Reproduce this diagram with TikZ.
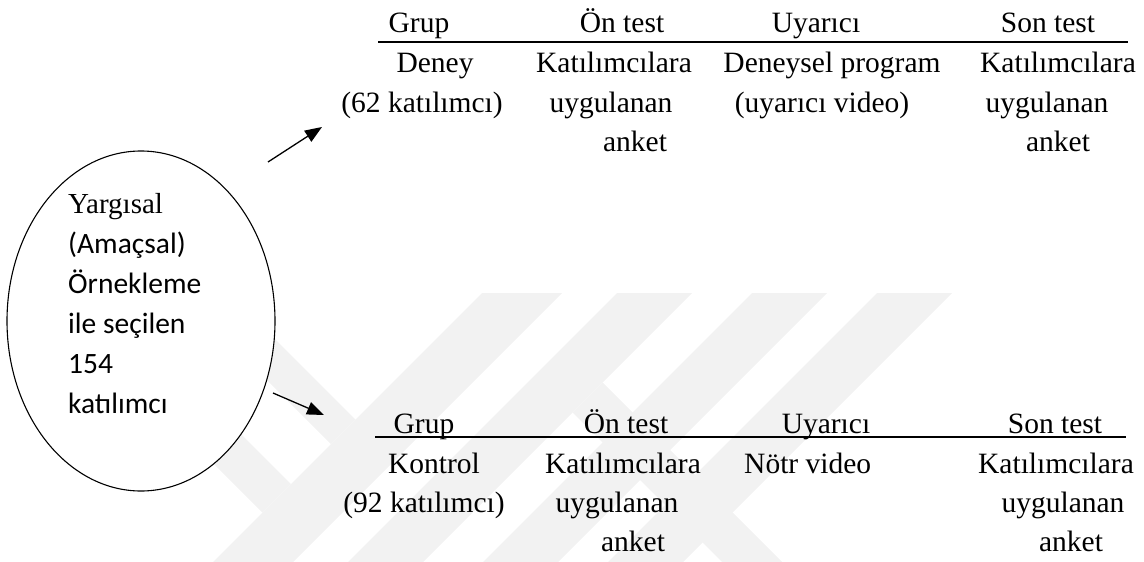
\documentclass[tikz,border=0pt]{standalone}
\usepackage{fontspec}
\setmainfont{Liberation Serif}
\newfontfamily\calibri{Carlito}
\usetikzlibrary{arrows.meta,shapes.geometric}

\begin{document}
\begin{tikzpicture}[x=1pt,y=-1pt,
  cell/.style={font=\fontsize{29.5}{31}\selectfont, inner sep=0pt, anchor=base},
  lcell/.style={cell, anchor=base west},
  sans/.style={font=\calibri\fontsize{29.5}{31}\selectfont, inner sep=0pt, anchor=base west},
  serifl/.style={font=\fontsize{29}{31}\selectfont, inner sep=0pt, anchor=base west},
  rule/.style={line width=1.5pt},
  wm/.style={fill=black!5, draw=none},
  link/.style={line width=1.3pt, -{Triangle[length=17pt,width=13pt]}}]
\useasboundingbox (0,0) rectangle (1144,562);

% faint background logo: diagonal bands
\fill[wm] (482,293) -- (562,293) -- (293,562) -- (213,562) -- cycle;
\fill[wm] (617,293) -- (692,293) -- (423,562) -- (348,562) -- cycle;
\fill[wm] (752,293) -- (827,293) -- (558,562) -- (483,562) -- cycle;
\fill[wm] (877,293) -- (952,293) -- (683,562) -- (608,562) -- cycle;
\fill[wm] (150,214) -- (355.5,419.5) -- (331,444) -- (150,263) -- cycle;
\fill[wm] (150,343) -- (291,484) -- (262.5,512.5) -- (150,400) -- cycle;
\fill[wm] (602.5,382.5) -- (782,562) -- (722,562) -- (572.5,412.5) -- cycle;

% sample pool
\node[ellipse, draw, fill=white, line width=1.1pt, inner sep=0pt,
      minimum width=268pt, minimum height=340pt] (pool) at (141,321) {};
\node[serifl] (p1) at (68,213) {Yargısal};
\node[sans] (p2) at (68,253) {(Amaçsal)};
\node[sans] (p3) at (68,293) {Örnekleme};
\node[sans] (p4) at (68,333) {ile seçilen};
\node[sans] (p5) at (68,373) {154};
\node[sans] (p6) at (68,413) {katılımcı};

% experimental group table
\node[cell] (h1) at (419,32) {Grup};
\node[cell] (h2) at (622,32) {Ön test};
\node[cell] (h3) at (816,32) {Uyarıcı};
\node[cell] (h4) at (1048,32) {Son test};
\coordinate (r1a) at (378,42);
\coordinate (r1b) at (1128,42);
\draw[rule] (r1a) -- (r1b);
\node[cell] (d1) at (435,72) {Deney};
\node[cell] (d2) at (614,72) {Katılımcılara};
\node[cell] (d3) at (832,72) {Deneysel program};
\node[cell] (d4) at (1058,72) {Katılımcılara};
\node[cell] (d5) at (422,112) {(62 katılımcı)};
\node[cell] (d6) at (611,112) {uygulanan};
\node[cell] (d7) at (822,112) {(uyarıcı video)};
\node[cell] (d8) at (1047,112) {uygulanan};
\node[cell] (d9) at (635,151) {anket};
\node[cell] (d10) at (1058,151) {anket};

% control group table
\node[cell] (k1) at (424,433) {Grup};
\node[cell] (k2) at (626,433) {Ön test};
\node[cell] (k3) at (826,433) {Uyarıcı};
\node[cell] (k4) at (1055,433) {Son test};
\coordinate (r2a) at (375,437);
\coordinate (r2b) at (1126,437);
\draw[rule] (r2a) -- (r2b);
\node[cell] (c1) at (434,473) {Kontrol};
\node[cell] (c2) at (623,473) {Katılımcılara};
\node[lcell] (c3) at (744,473) {Nötr video};
\node[cell] (c4) at (1056,473) {Katılımcılara};
\node[cell] (c5) at (424,512) {(92 katılımcı)};
\node[cell] (c6) at (617,512) {uygulanan};
\node[cell] (c7) at (1063,512) {uygulanan};
\node[cell] (c8) at (633,551) {anket};
\node[cell] (c9) at (1071,551) {anket};

% arrows from the pool to the two groups
\coordinate (a1s) at (268,162);
\coordinate (a1e) at (322,127);
\coordinate (a2s) at (273,393);
\coordinate (a2e) at (324,415);
\draw[link] (a1s) -- (a1e);
\draw[link] (a2s) -- (a2e);
\end{tikzpicture}
\end{document}
